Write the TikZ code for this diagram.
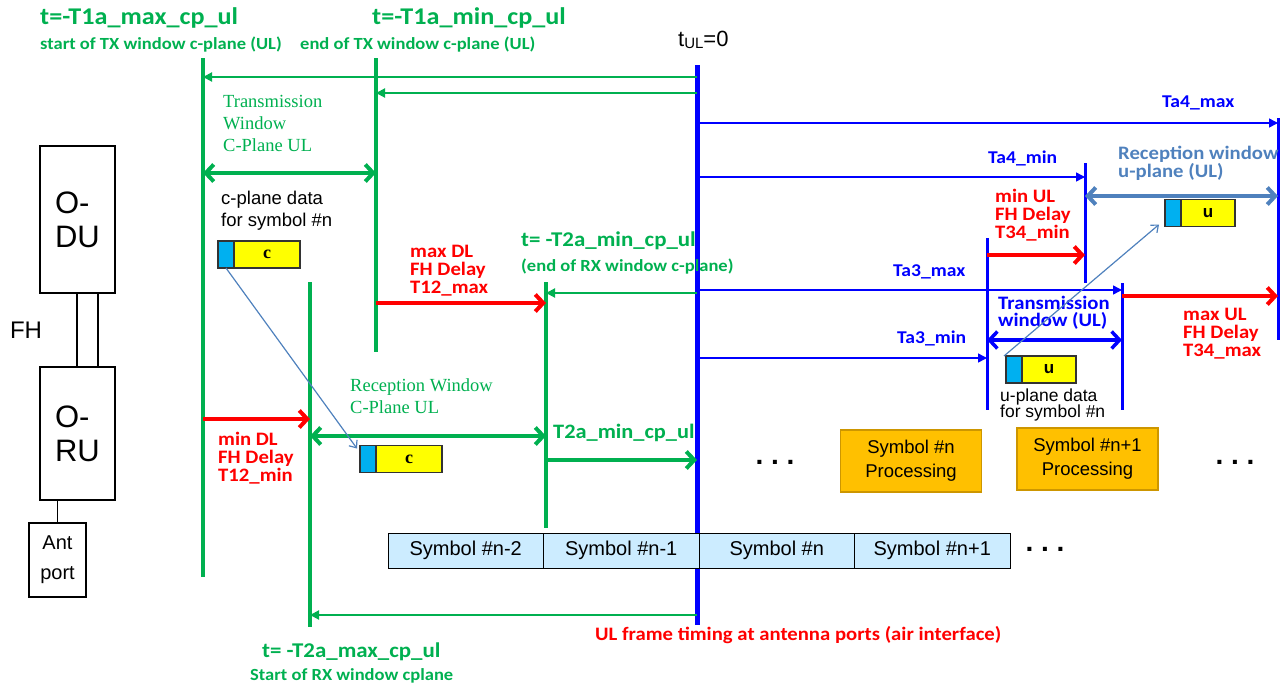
\documentclass[tikz,border=0pt]{standalone}
\usepackage{fontspec}
\setmainfont{Liberation Sans}
\newfontfamily\calfont[FakeStretch=1.09]{Carlito}
\newfontfamily\timesfont{Liberation Serif}
\usetikzlibrary{positioning,arrows.meta}
\definecolor{OGreen}{RGB}{0,176,80}
\definecolor{ORed}{RGB}{255,0,0}
\definecolor{OBlue}{RGB}{0,0,255}
\definecolor{OSteel}{RGB}{79,129,189}
\definecolor{OCyan}{RGB}{0,176,240}
\definecolor{OYellow}{RGB}{255,255,0}
\definecolor{OOrange}{RGB}{255,192,0}
\definecolor{OOrangeDk}{RGB}{205,150,0}
\definecolor{OSym}{RGB}{204,236,255}
\tikzset{
	barb/.tip={Straight Barb[length=8pt,width=17pt]},
	unit/.style={draw=black,line width=1.5pt,minimum width=75pt,align=left,inner sep=0pt,
		font=\fontsize{31}{34}\selectfont},
	antbox/.style={draw=black,line width=1.5pt,minimum width=57pt,minimum height=74pt,align=center,
		inner sep=0pt,font=\fontsize{20}{30}\selectfont},
	link/.style={draw=black,line width=1.5pt},
	gline/.style={draw=OGreen,line width=4pt},
	tline/.style={draw=OBlue,line width=5pt},
	bline/.style={draw=OBlue,line width=3pt},
	gthin/.style={draw=OGreen,line width=2pt,-{Triangle[length=9pt,width=9pt]}},
	bthin/.style={draw=OBlue,line width=1.5pt,-{Triangle[length=9pt,width=9pt]}},
	gdbl/.style={draw=OGreen,line width=4pt,{barb}-{barb}},
	gsgl/.style={draw=OGreen,line width=4pt,-{barb}},
	rarr/.style={draw=ORed,line width=4pt,-{barb}},
	bdbl/.style={draw=OBlue,line width=3.5pt,{barb}-{barb}},
	sdbl/.style={draw=OSteel,line width=4pt,{barb}-{barb}},
	darr/.style={draw=OSteel,line width=1.2pt,-{Straight Barb[length=6pt,width=10pt]}},
	lbl/.style={inner sep=0pt,anchor=west,align=left},
	gbig/.style={lbl,text=OGreen,font=\calfont\bfseries\fontsize{24}{26}\selectfont},
	gsmall/.style={lbl,text=OGreen,font=\calfont\bfseries\fontsize{17}{20}\selectfont},
	gserif/.style={lbl,text=OGreen,font=\timesfont\fontsize{18.5}{22}\selectfont},
	rlbl/.style={lbl,text=ORed,font=\calfont\bfseries\fontsize{19}{18}\selectfont},
	blbl/.style={lbl,text=OBlue,font=\calfont\bfseries\fontsize{18}{17}\selectfont},
	note/.style={lbl,font=\fontsize{18.5}{22}\selectfont},
	yblk/.style={draw=black!80,line width=1.5pt,fill=OYellow,minimum height=27pt,inner sep=0pt,outer sep=0pt},
	cblk/.style={draw=black!80,line width=1.5pt,fill=OCyan,minimum width=16pt,minimum height=27pt,
		inner sep=0pt,outer sep=0pt},
	symcell/.style={draw=black,line width=1pt,fill=OSym,minimum width=155.5pt,minimum height=35pt,
		inner sep=0pt,outer sep=0pt,font=\fontsize{20}{24}\selectfont},
	procbox/.style={draw=OOrangeDk,line width=1.5pt,fill=OOrange,minimum width=141pt,minimum height=62pt,
		align=center,inner sep=0pt,font=\fontsize{18.5}{24}\selectfont},
	dots/.style={inner sep=0pt,font=\bfseries\fontsize{28}{30}\selectfont},
}
\begin{document}
\begin{tikzpicture}[x=1pt,y=-1pt]
\useasboundingbox (0,0) rectangle (1286,686);
% O-DU, O-RU and antenna port
\node[unit,minimum height=147pt] (odu) at (77.5,219.5) {O-\\DU};
\node[unit,minimum height=133pt] (oru) at (77.5,433.5) {O-\\RU};
\node[antbox] (antp) at (57.5,560) {Ant\\port};
\draw[link] ([xshift=-0.5pt]odu.south) -- ([xshift=-0.5pt]oru.north);
\draw[link] ([xshift=20.5pt]odu.south) -- ([xshift=20.5pt]oru.north);
\draw[link] (antp.north |- oru.south) -- (antp.north);
\node[font=\fontsize{24}{26}\selectfont,inner sep=0pt] (fh) at (26,330) {FH};

% timing lines
\foreach \n/\x/\ya/\yb in {txs/203/58/577,txe/376/58/352,rxs/310/282/627,rxe/546/282/528}{
	\coordinate (\n-t) at (\x,\ya);
	\coordinate (\n-b) at (\x,\yb);
	\draw[gline] (\n-t) -- (\n-b);
}
\foreach \n/\x/\ya/\yb in {a4x/1278/118/340,a4n/1085/163/283,a3n/987/238/410,a3x/1122/283/410}{
	\coordinate (\n-t) at (\x,\ya);
	\coordinate (\n-b) at (\x,\yb);
	\draw[bline] (\n-t) -- (\n-b);
}
\coordinate (tul-t) at (697,65);
\coordinate (tul-b) at (697,625);
\draw[tline] (tul-t) -- (tul-b);

% c-plane windows
\foreach \n/\y in {txs/77,txe/93,rxe/293,rxs/615}
	\draw[gthin] (tul-t |- 0,\y) -- (\n-t |- 0,\y);
\draw[gdbl] (txs-t |- 0,173) -- (txe-t |- 0,173);
\draw[gdbl] (rxs-t |- 0,436) -- (rxe-t |- 0,436);
\draw[gsgl] (rxe-t |- 0,460) -- (tul-t |- 0,460);
\draw[rarr] (txe-t |- 0,303) -- (rxe-t |- 0,303);
\draw[rarr] (txs-t |- 0,419) -- (rxs-t |- 0,419);

% u-plane windows
\foreach \n/\y in {a4x/123,a4n/177,a3x/290,a3n/358}
	\draw[bthin] (tul-t |- 0,\y) -- (\n-t |- 0,\y);
\draw[sdbl] (a4n-t |- 0,196) -- (a4x-t |- 0,196);
\draw[bdbl] (a3n-t |- 0,340) -- (a3x-t |- 0,340);
\draw[rarr] (a3n-t |- 0,255) -- (a4n-t |- 0,255);
\draw[rarr] (a3x-t |- 0,296) -- (a4x-t |- 0,296);

% labels
\node[gbig] (t1amax) at (40,18) {t=-T1a\_max\_cp\_ul};
\node[gsmall] (t1amaxs) at (40,45) {start of TX window c-plane (UL)};
\node[gbig] (t1amin) at (372,18) {t=-T1a\_min\_cp\_ul};
\node[gsmall] (t1amins) at (300,45) {end of TX window c-plane (UL)};
\node[lbl,font=\fontsize{22}{24}\selectfont] (tul) at (678,40) {t\raisebox{-2pt}{\fontsize{15}{16}\selectfont UL}=0};
\node[gserif] (txwinc) at (223,123) {Transmission\\Window\\C-Plane UL};
\node[gserif] (rxwinc) at (350,396) {Reception Window\\C-Plane UL};
\node[note] (cdata) at (221,211) {c-plane data\\for symbol \#n};
\node[rlbl] (maxdl) at (410,271) {max DL\\FH Delay\\T12\_max};
\node[rlbl] (mindl) at (218,458) {min DL\\FH Delay\\T12\_min};
\node[gbig,font=\calfont\bfseries\fontsize{21}{24}\selectfont] (t2amin) at (521,241) {t= -T2a\_min\_cp\_ul};
\node[gsmall] (t2amins) at (521,267) {(end of RX window c-plane)};
\node[gbig,font=\calfont\bfseries\fontsize{20.5}{24}\selectfont] (t2aminw) at (553,433) {T2a\_min\_cp\_ul};
\node[gbig,font=\calfont\bfseries\fontsize{21}{24}\selectfont] (t2amax) at (262,652) {t= -T2a\_max\_cp\_ul};
\node[gsmall] (t2amaxs) at (250,676) {Start of RX window cplane};
\node[lbl,text=ORed,font=\calfont\bfseries\fontsize{19}{20}\selectfont] (ulframe) at (595,635)
	{UL frame timing at antenna ports (air interface)};
\node[blbl] (ta4max) at (1162,103) {Ta4\_max};
\node[blbl] (ta4min) at (988,158) {Ta4\_min};
\node[blbl] (ta3max) at (893,272) {Ta3\_max};
\node[blbl] (ta3min) at (897,338) {Ta3\_min};
\node[blbl,text=OSteel,font=\calfont\bfseries\fontsize{19}{18}\selectfont] (rxwinu) at (1118,163) {Reception window\\u-plane (UL)};
\node[blbl,font=\calfont\bfseries\fontsize{19}{17}\selectfont] (txwinu) at (998,313) {Transmission\\window (UL)};
\node[rlbl] (minul) at (995,215) {min UL\\FH Delay\\T34\_min};
\node[rlbl] (maxul) at (1183,334) {max UL\\FH Delay\\T34\_max};
\node[note,font=\fontsize{17.5}{16.5}\selectfont] (udata) at (1000,405) {u-plane data\\for symbol \#n};

% c-plane and u-plane data blocks
\node[yblk,minimum width=66pt,font=\timesfont\bfseries\fontsize{18}{20}\selectfont] (cup) at (267,254.5) {c};
\node[cblk,left=0pt of cup] (cupc) {};
\node[yblk,minimum width=66pt,font=\timesfont\bfseries\fontsize{18}{20}\selectfont] (clow) at (409,459) {c};
\node[cblk,left=0pt of clow] (clowc) {};
\node[yblk,minimum width=54pt,font=\bfseries\fontsize{17}{20}\selectfont] (uup) at (1208,213) {u};
\node[cblk,left=0pt of uup] (uupc) {};
\node[yblk,minimum width=54pt,font=\bfseries\fontsize{17}{20}\selectfont] (ulow) at (1049,369.5) {u};
\node[cblk,left=0pt of ulow] (ulowc) {};
\draw[darr] (cupc.south) -- ([shift={(-3pt,-3pt)}]clowc.north west);
\draw[darr] ([xshift=-2pt]ulowc.north west) -- ([shift={(-6pt,2pt)}]uupc.south west);

% air interface symbols
\node[symcell] (s1) at (465.75,550.5) {Symbol \#n-2};
\node[symcell,right=0pt of s1] (s2) {Symbol \#n-1};
\node[symcell,right=0pt of s2] (s3) {Symbol \#n};
\node[symcell,right=0pt of s3] (s4) {Symbol \#n+1};
\node[dots] (dots3) at (1045,549) {.\ .\ .};

% processing
\node[procbox] (proc1) at (911,461) {Symbol \#n\\Processing};
\node[procbox] (proc2) at (1087.5,459) {Symbol \#n+1\\Processing};
\node[dots] (dots1) at (775,462) {.\ .\ .};
\node[dots] (dots2) at (1235,462) {.\ .\ .};
\end{tikzpicture}
\end{document}
